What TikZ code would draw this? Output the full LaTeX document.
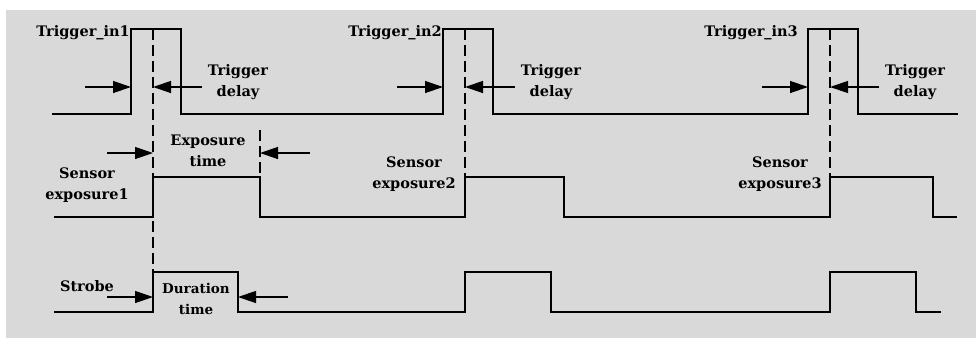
\documentclass[tikz,border=0pt]{standalone}
\usepackage{fontspec}
\newfontfamily\lblfont{DejaVu Serif}
\usetikzlibrary{arrows.meta}
\begin{document}
\begin{tikzpicture}[x=1pt,y=-1pt,
  sig/.style={line width=1.5pt,line join=miter},
  guide/.style={line width=1.3pt,dash pattern=on 11pt off 5pt},
  ptr/.style={line width=1.3pt,-{Triangle[length=18pt,width=12pt]}},
  lbl/.style={font=\lblfont\bfseries\fontsize{14.5}{21}\selectfont,align=center,inner sep=0pt}]
\useasboundingbox (0,0) rectangle (976,338);
\fill[white] (0,0) rectangle (976,338);
\fill[fill={rgb,255:red,217;green,217;blue,217}] (6,10) rectangle (976,338);

% signal traces
\draw[sig] (52,114) -- (131,114) -- (131,29) -- (181,29) -- (181,114)
  -- (443,114) -- (443,29) -- (493,29) -- (493,114)
  -- (808,114) -- (808,29) -- (858,29) -- (858,114) -- (958,114);
\draw[sig] (54,217) -- (153,217) -- (153,177) -- (260,177) -- (260,217)
  -- (465,217) -- (465,177) -- (564,177) -- (564,217)
  -- (830,217) -- (830,177) -- (933,177) -- (933,217) -- (957,217);
\draw[sig] (54,312) -- (153,312) -- (153,272) -- (238,272) -- (238,312)
  -- (465,312) -- (465,272) -- (551,272) -- (551,312)
  -- (830,312) -- (830,272) -- (916,272) -- (916,312) -- (941,312);

% guide lines
\coordinate (g1t) at (153,29);  \coordinate (g1b) at (153,272);
\coordinate (g2t) at (465,29);  \coordinate (g2b) at (465,177);
\coordinate (g3t) at (830,29);  \coordinate (g3b) at (830,177);
\coordinate (get) at (260,130); \coordinate (geb) at (260,177);
\draw[guide] (g1t) -- (g1b);
\draw[guide] (g2t) -- (g2b);
\draw[guide] (g3t) -- (g3b);
\draw[guide] (get) -- (geb);

% arrows
\coordinate (a1s) at (85,87);  \coordinate (a1e) at (131,87);
\coordinate (b1s) at (202,87); \coordinate (b1e) at (153,87);
\coordinate (a2s) at (397,87); \coordinate (a2e) at (443,87);
\coordinate (b2s) at (515,87); \coordinate (b2e) at (465,87);
\coordinate (a3s) at (762,87); \coordinate (a3e) at (808,87);
\coordinate (b3s) at (879,87); \coordinate (b3e) at (830,87);
\coordinate (xs) at (107,153); \coordinate (xe) at (153,153);
\coordinate (ys) at (310,153); \coordinate (ye) at (260,153);
\coordinate (ss) at (107,297); \coordinate (se) at (153,297);
\coordinate (ts) at (288,297); \coordinate (te) at (238,297);
\draw[ptr] (a1s) -- (a1e);
\draw[ptr] (b1s) -- (b1e);
\draw[ptr] (a2s) -- (a2e);
\draw[ptr] (b2s) -- (b2e);
\draw[ptr] (a3s) -- (a3e);
\draw[ptr] (b3s) -- (b3e);
\draw[ptr] (xs) -- (xe);
\draw[ptr] (ys) -- (ye);
\draw[ptr] (ss) -- (se);
\draw[ptr] (ts) -- (te);

% labels
\node[lbl,anchor=east] (tin1) at (130,33) {Trigger\_in1};
\node[lbl,anchor=east] (tin2) at (442,33) {Trigger\_in2};
\node[lbl,anchor=east] (tin3) at (798,33) {Trigger\_in3};
\node[lbl] (td1) at (238,82) {Trigger\\delay};
\node[lbl] (td2) at (551,82) {Trigger\\delay};
\node[lbl] (td3) at (915,82) {Trigger\\delay};
\node[lbl] (ext) at (208,151) {Exposure\\time};
\node[lbl] (se1) at (87,185) {Sensor\\exposure1};
\node[lbl] (se2) at (414,174) {Sensor\\exposure2};
\node[lbl] (se3) at (780,174) {Sensor\\exposure3};
\node[lbl] (stb) at (87,286) {Strobe};
\node[lbl,font=\lblfont\bfseries\fontsize{13.5}{21}\selectfont] (dur) at (196,299) {Duration\\time};
\end{tikzpicture}
\end{document}
